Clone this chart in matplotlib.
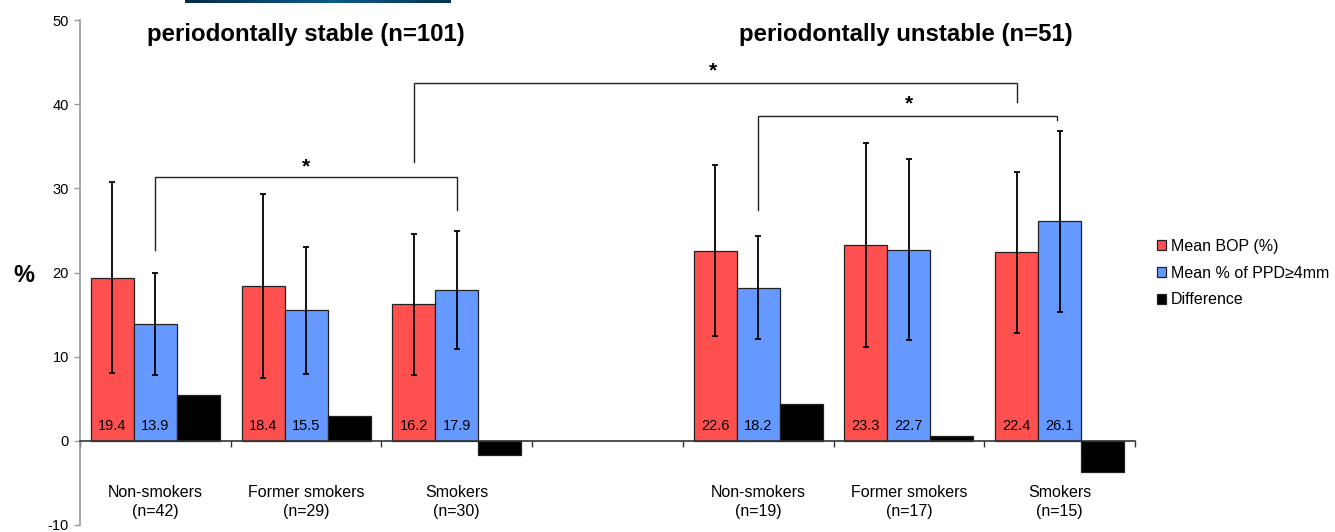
import numpy as np
import matplotlib
matplotlib.use("Agg")
import matplotlib.pyplot as plt
from matplotlib.colors import LinearSegmentedColormap

plt.rcParams['font.family'] = ['Liberation Sans', 'DejaVu Sans']
plt.rcParams['axes.unicode_minus'] = False

# ---------------- data ----------------
categories = ["Non-smokers\n(n=42)", "Former smokers\n(n=29)", "Smokers\n(n=30)",
              "Non-smokers\n(n=19)", "Former smokers\n(n=17)", "Smokers\n(n=15)"]
slots = [0, 1, 2, 4, 5, 6]          # slot 3 is an empty gap between the two cohorts
bop = [19.4, 18.4, 16.2, 22.6, 23.3, 22.4]
bop_sd = [11.35, 10.95, 8.4, 10.2, 12.1, 9.6]
ppd = [13.9, 15.5, 17.9, 18.2, 22.7, 26.1]
ppd_sd = [6.1, 7.5, 7.0, 6.1, 10.75, 10.75]
diff = [5.5, 2.9, -1.7, 4.4, 0.6, -3.7]
series_names = ["Mean BOP (%)", "Mean % of PPD\u22654mm", "Difference"]
group_titles = ["periodontally stable (n=101)", "periodontally unstable (n=51)"]
yticks = [-10, 0, 10, 20, 30, 40, 50]

# significance brackets: (x_start, y_start, x_end, y_end, y_top)
brackets = [
    (0.0, 22.7, 2.0, 27.4, 31.3),
    (2 - 0.2855, 33.1, 6 - 0.2855, 40.3, 42.5),
    (4.0, 27.4, 5.98, 38.1, 38.6),
]
stars = [(1.0, 32.6), (3.7, 44.0), (5.0, 40.0)]

# ---------------- style ----------------
RED = "#FF5050"
BLUE = "#6699FF"
BLACK = "#000000"
W = 0.2855

fig = plt.figure(figsize=(13.35, 5.32), dpi=100)
ax = fig.add_axes([80 / 1335, 1 - 525 / 532, (1135 - 80) / 1335, (525 - 20) / 532])

x = np.array(slots, dtype=float)
err_kw = dict(ecolor="black", elinewidth=1.3, capsize=2.4, capthick=1.3)
b1 = ax.bar(x - W, bop, W, color=RED, edgecolor="#222222", linewidth=0.9,
            yerr=bop_sd, error_kw=err_kw, label=series_names[0], zorder=2)
b2 = ax.bar(x, ppd, W, color=BLUE, edgecolor="#222222", linewidth=0.9,
            yerr=ppd_sd, error_kw=err_kw, label=series_names[1], zorder=2)
b3 = ax.bar(x + W, diff, W, color=BLACK, edgecolor="#222222", linewidth=0.9,
            label=series_names[2], zorder=2)

# value labels inside bars
for xi, v in zip(x - W, bop):
    ax.text(xi, 1.8, f"{v:.1f}", ha="center", va="center", fontsize=10.5, zorder=3)
for xi, v in zip(x, ppd):
    ax.text(xi, 1.8, f"{v:.1f}", ha="center", va="center", fontsize=10.5, zorder=3)

# axes
ax.set_xlim(-0.5, 6.5)
ax.set_ylim(-10, 50)
ax.set_yticks(yticks)
ax.tick_params(axis="y", direction="out", length=4, width=1, color="#999999",
               labelsize=10.5, pad=4)
ax.spines["left"].set_color("#999999")
ax.spines["left"].set_linewidth(1.2)
ax.spines["top"].set_visible(False)
ax.spines["right"].set_visible(False)
ax.spines["bottom"].set_position(("data", 0))
ax.spines["bottom"].set_color("#333333")
ax.spines["bottom"].set_linewidth(1.2)
ax.set_xticks(np.arange(-0.5, 7.0, 1.0))
ax.set_xticklabels([])
ax.tick_params(axis="x", direction="out", length=4, width=1, color="#333333")
ax.spines["bottom"].set_zorder(4)

# category labels
for xi, lab in zip(x, categories):
    ax.text(xi, -7.25, lab, ha="center", va="center", fontsize=11.5, linespacing=1.38)

# brackets
for (xs, ys, xe, ye, yt) in brackets:
    ax.plot([xs, xs, xe, xe], [ys, yt, yt, ye], color="#222222", lw=1.0,
            solid_joinstyle="miter", zorder=3)
for (sx, sy) in stars:
    ax.text(sx, sy, "*", ha="center", va="center", fontsize=15, fontweight="bold")

# y label
fig.text(24 / 1335, 1 - 275 / 532, "%", ha="center", va="center",
         fontsize=17, fontweight="bold")

# group titles
fig.text(306 / 1335, 1 - 34 / 532, group_titles[0], ha="center", va="center",
         fontsize=17.3, fontweight="bold")
fig.text(906 / 1335, 1 - 35 / 532, group_titles[1], ha="center", va="center",
         fontsize=17.3, fontweight="bold")

# legend
leg = fig.legend(handles=[b1, b2, b3], labels=series_names, loc="center left",
                 bbox_to_anchor=(1157 / 1335, 1 - 273 / 532), frameon=False,
                 fontsize=11.5, handlelength=0.55, handleheight=0.55,
                 handletextpad=0.3, labelspacing=0.75, borderpad=0, borderaxespad=0)

# decorative header strip at the top
hdr = fig.add_axes([185 / 1335, 1 - 3.5 / 532, 266 / 1335, 3.5 / 532])
grad = np.linspace(0, 1, 256)
grad = 1 - np.abs(grad - 0.55) * 1.6
cmap = LinearSegmentedColormap.from_list("hdr", ["#052440", "#0e5c88"])
hdr.imshow(grad[None, :], aspect="auto", cmap=cmap, vmin=0, vmax=1)
hdr.axis("off")

fig.savefig("out.png", dpi=100)
